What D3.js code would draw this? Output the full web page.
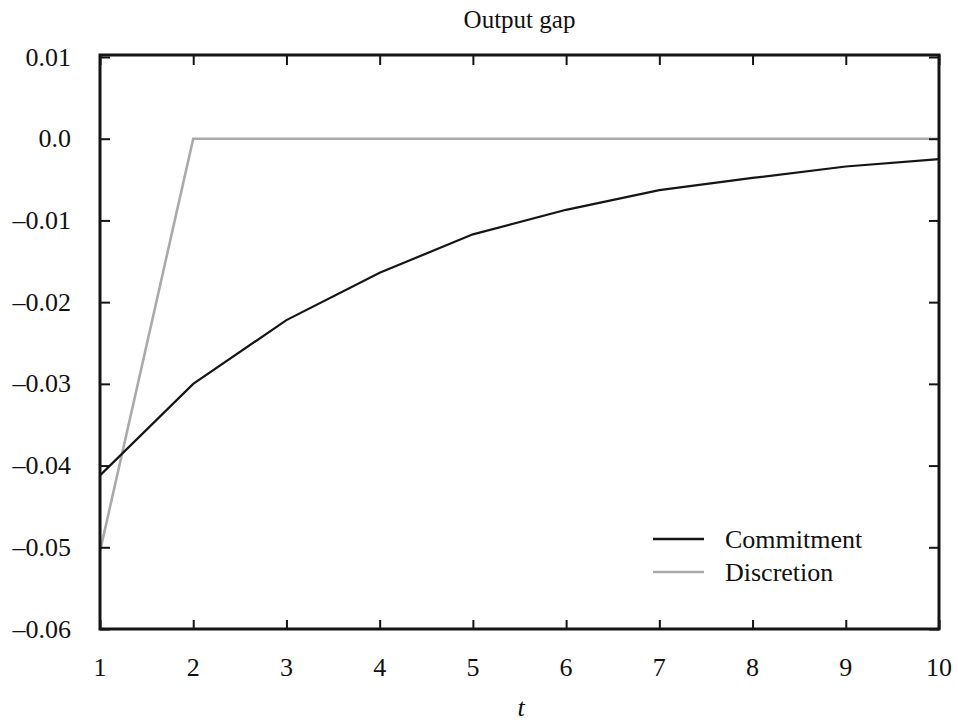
<!DOCTYPE html>
<meta charset="utf-8">
<html>
<head>
    <script src="https://d3js.org/d3.v7.min.js"></script>
    <style>
      body { margin: 0; background: #fff; }
      text { font-family: "Liberation Serif", "Times New Roman", serif; fill: #111; }
    </style>
</head>
<body>
<div id="my_dataviz"></div>
<script>
    // data
    const periods = [1, 2, 3, 4, 5, 6, 7, 8, 9, 10];
    const commitment = [-0.0412, -0.0300, -0.0222, -0.0164, -0.0117, -0.0087, -0.0063, -0.0048, -0.0034, -0.0025];
    const discretion = [-0.0505, 0, 0, 0, 0, 0, 0, 0, 0, 0];
    const yTicks = [0.01, 0, -0.01, -0.02, -0.03, -0.04, -0.05, -0.06];
    const yTickLabels = ["0.01", "0.0", "\u20130.01", "\u20130.02", "\u20130.03", "\u20130.04", "\u20130.05", "\u20130.06"];
    const seriesNames = ["Commitment", "Discretion"];
    const seriesColors = ["#151515", "#aaaaaa"];

    const W = 958, H = 721;
    const plotL = 100, plotR = 939, plotT = 55, plotB = 629;

    const svg = d3.select("#my_dataviz")
      .append("svg")
        .attr("width", W)
        .attr("height", H);

    const x = d3.scaleLinear().domain([1, 10]).range([plotL, plotR]);
    const y = d3.scaleLinear().domain([-0.06, 0.01]).range([plotB, 57]);

    // title
    svg.append("text")
      .attr("x", (plotL + plotR) / 2)
      .attr("y", 28)
      .attr("text-anchor", "middle")
      .style("font-size", "25px")
      .text("Output gap");

    // lines
    const line = d3.line()
      .x((d, i) => x(periods[i]))
      .y(d => y(d));

    svg.append("path")
      .datum(discretion)
      .attr("fill", "none")
      .attr("stroke", seriesColors[1])
      .attr("stroke-width", 2.6)
      .attr("d", line);

    svg.append("path")
      .datum(commitment)
      .attr("fill", "none")
      .attr("stroke", seriesColors[0])
      .attr("stroke-width", 2.2)
      .attr("d", line);

    // frame and inward ticks
    svg.append("rect")
      .attr("x", plotL).attr("y", plotT)
      .attr("width", plotR - plotL).attr("height", plotB - plotT)
      .attr("fill", "none")
      .attr("stroke", "#151515")
      .attr("stroke-width", 3);

    const xAxisB = d3.axisBottom(x).tickValues(periods).tickSize(-9).tickFormat("");
    const xAxisT = d3.axisTop(x).tickValues(periods).tickSize(-10).tickFormat("");
    const yAxisL = d3.axisLeft(y).tickValues(yTicks).tickSize(-10).tickFormat("");
    const yAxisR = d3.axisRight(y).tickValues(yTicks).tickSize(-10).tickFormat("");

    [[xAxisB, `translate(0,${plotB})`], [xAxisT, `translate(0,${plotT})`],
     [yAxisL, `translate(${plotL},0)`], [yAxisR, `translate(${plotR},0)`]].forEach(([ax, tr]) => {
      const g = svg.append("g").attr("transform", tr).call(ax);
      g.select(".domain").remove();
      g.selectAll("line").attr("stroke", "#151515").attr("stroke-width", 2);
    });

    // tick labels
    svg.append("g")
      .selectAll("text")
      .data(periods)
      .join("text")
        .attr("x", d => x(d))
        .attr("y", 676)
        .attr("text-anchor", "middle")
        .style("font-size", "26px")
        .text(d => d);

    svg.append("g")
      .selectAll("text")
      .data(yTicks)
      .join("text")
        .attr("x", 71)
        .attr("y", d => y(d))
        .attr("dy", "0.33em")
        .attr("text-anchor", "end")
        .style("font-size", "26px")
        .text((d, i) => yTickLabels[i]);

    // x label
    svg.append("text")
      .attr("x", 521)
      .attr("y", 716)
      .attr("text-anchor", "middle")
      .style("font-size", "26px")
      .style("font-style", "italic")
      .text("t");

    // legend
    const legend = svg.append("g");
    seriesNames.forEach((name, i) => {
      const ly = 539 + i * 33;
      legend.append("line")
        .attr("x1", 653).attr("x2", 704)
        .attr("y1", ly).attr("y2", ly)
        .attr("stroke", seriesColors[i])
        .attr("stroke-width", 2.6);
      legend.append("text")
        .attr("x", 725)
        .attr("y", ly + 9)
        .style("font-size", "26px")
        .text(name);
    });
</script>
</body>
</html>
